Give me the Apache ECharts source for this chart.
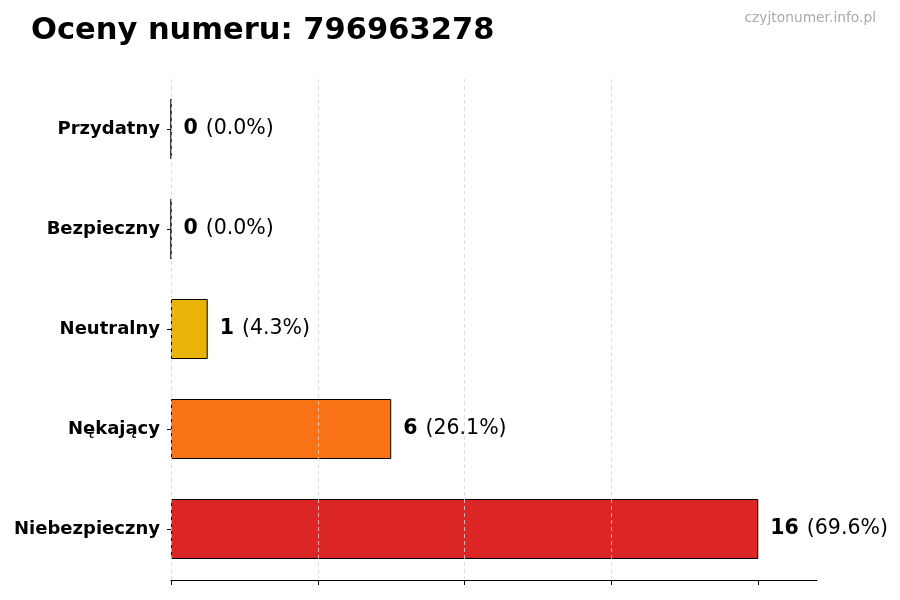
<!DOCTYPE html>
<html>
<head>
<meta charset="utf-8">
<script src="https://cdn.jsdelivr.net/npm/echarts@6/dist/echarts.min.js"></script>
<style>
html, body { margin: 0; padding: 0; background: #fff; }
#chart { width: 900px; height: 600px; }
</style>
</head>
<body>
<div id="chart"></div>
<script>
// dane z wykresu
var categories = ['Przydatny', 'Bezpieczny', 'Neutralny', 'Nękający', 'Niebezpieczny'];
var counts = [0, 0, 1, 6, 16];
var colors = ['#22c55e', '#3b82f6', '#eab308', '#f97316', '#dc2626'];
var xTicks = [0, 4, 8, 12, 16];

var total = counts.reduce(function (a, b) { return a + b; }, 0);

var myChart = echarts.init(document.getElementById('chart'));

var option = {
    backgroundColor: '#fff',
    textStyle: { fontFamily: 'DejaVu Sans' },
    title: {
        text: 'Oceny numeru: 796963278',
        left: 31,
        top: 16,
        padding: 0,
        textStyle: { fontSize: 30.5, fontWeight: 'bold', color: '#000', fontFamily: 'DejaVu Sans' }
    },
    graphic: [{
        type: 'text',
        right: 24,
        top: 11,
        style: { text: 'czyjtonumer.info.pl', fill: '#aaaaaa', font: '13.8px "DejaVu Sans"' }
    }],
    grid: { left: 171, right: 83, top: 79, bottom: 21 },
    xAxis: {
        type: 'value',
        min: 0,
        max: 17.6,
        interval: 4,
        z: 3,
        offset: 1,
        axisLine: { show: true, lineStyle: { color: '#000', width: 1 } },
        axisTick: { show: true, length: 5, customValues: xTicks, lineStyle: { color: '#000' } },
        axisLabel: { show: false },
        splitLine: {
            show: true,
            showMaxLine: false,
            lineStyle: { color: '#d4d4d4', type: [4, 3], width: 0.8 }
        }
    },
    yAxis: {
        type: 'category',
        data: categories,
        inverse: true,
        axisLine: { show: false },
        axisTick: { show: true, alignWithLabel: true, length: 4, lineStyle: { color: '#000' } },
        axisLabel: { margin: 11, fontSize: 18, fontWeight: 'bold', color: '#000', fontFamily: 'DejaVu Sans' }
    },
    series: [{
        type: 'bar',
        barWidth: 60,
        data: counts.map(function (v, i) {
            return { value: v, itemStyle: { color: colors[i] } };
        }),
        itemStyle: { borderColor: '#000', borderWidth: 1 },
        label: {
            show: true,
            position: 'right',
            distance: 12,
            formatter: function (p) {
                var pct = (p.value / total * 100).toFixed(1);
                return '{b|' + p.value + '}{n|(' + pct + '%)}';
            },
            rich: {
                b: { fontSize: 20.5, fontWeight: 'bold', color: '#000', fontFamily: 'DejaVu Sans' },
                n: { fontSize: 20.5, color: '#000', fontFamily: 'DejaVu Sans', padding: [0, 0, 0, 8] }
            }
        }
    }]
};

myChart.setOption(option);
</script>
</body>
</html>
